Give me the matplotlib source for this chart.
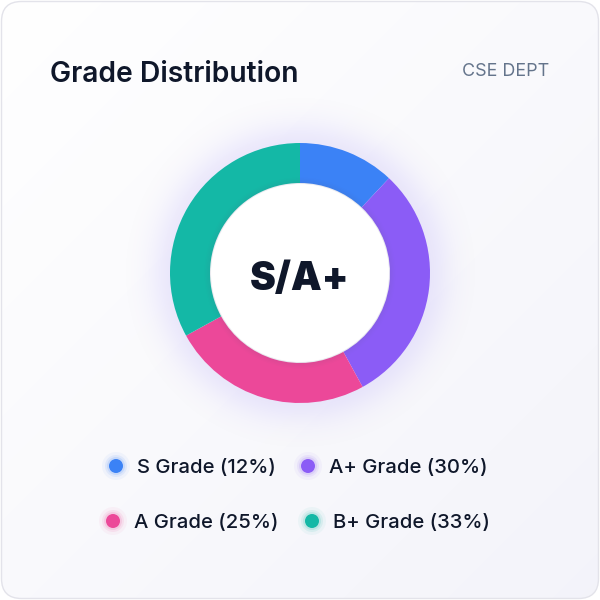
import matplotlib.pyplot as plt
from matplotlib.patches import FancyBboxPatch, Circle
import numpy as np

plt.rcParams['font.family'] = ['Inter', 'DejaVu Sans']

# data
grades = ['S Grade', 'A+ Grade', 'A Grade', 'B+ Grade']
shares = [12, 30, 25, 33]
colors = ['#3b82f6', '#8b5cf6', '#ec4899', '#14b8a6']
title = 'Grade Distribution'
dept = 'CSE DEPT'
center_label = 'S/A+'

W = H = 600
fig = plt.figure(figsize=(6, 6), dpi=100)
ax = fig.add_axes([0, 0, 1, 1])
renderer = fig.canvas.get_renderer()


def fit_size(s, width_px, **kw):
    # font size that makes the text about width_px wide
    t = fig.text(0, 0, s, fontsize=10, **kw)
    w = t.get_window_extent(renderer).width
    t.remove()
    return 10 * width_px / w


# card background with a soft gradient
yy, xx = np.mgrid[0:H, 0:W]
tt = (xx + (H - yy)) / (W + H)
top = np.array([1.0, 1.0, 1.0])
bot = np.array([0.955, 0.955, 0.98])
grad = top[None, None, :] * (1 - tt[..., None]) + bot[None, None, :] * tt[..., None]
card = FancyBboxPatch((1.5, 1.5), W - 3, H - 3, boxstyle='round,pad=0,rounding_size=20',
                      fc='none', ec='#e3e3ea', lw=1, zorder=2)
ax.add_patch(card)
im = ax.imshow(grad, extent=[0, W, 0, H], origin='lower', zorder=0)
im.set_clip_path(card)

cx, cy = 300, 327
r_out, r_in = 130, 90

# glow around the ring
r = np.hypot(xx - cx, (H - 1 - yy) - cy)
glow = np.zeros((H, W, 4))
glow[..., 0] = 0.55
glow[..., 1] = 0.47
glow[..., 2] = 0.96
glow[..., 3] = np.where(r > r_out - 5, 0.15 * np.exp(-((r - r_out + 5) / 26.0) ** 2), 0)
ax.imshow(glow[::-1], extent=[0, W, 0, H], origin='lower', zorder=1)

ax.pie(shares, colors=colors, startangle=90, counterclock=False, radius=r_out,
       center=(cx, cy), wedgeprops=dict(width=r_out - r_in, lw=0), frame=True)
ax.set_xlim(0, W)
ax.set_ylim(0, H)
ax.set_aspect('equal')
ax.axis('off')

# inner white disc with faint shadow
for k, al in zip([4, 3, 2, 1], [0.015, 0.02, 0.025, 0.03]):
    ax.add_patch(Circle((cx, cy), r_in, fc='none', ec=(0.4, 0.4, 0.5, al), lw=k * 2, zorder=5))
ax.add_patch(Circle((cx, cy), r_in - 1, fc='white', ec='none', zorder=6))

fs = fit_size(center_label, 99, fontweight=900)
ax.text(cx, 600 - 276, center_label, ha='center', va='center_baseline', fontsize=fs,
        fontweight=900, color='#0f172a', zorder=7)

fs = fit_size(title, 248, fontweight=600)
ax.text(50, 600 - 71, title, ha='left', va='center_baseline', fontsize=fs,
        fontweight=600, color='#0f172a', zorder=7)
fs = fit_size(dept, 87)
ax.text(549, 600 - 70, dept, ha='right', va='center_baseline', fontsize=fs,
        color='#64748b', zorder=7)

# legend
dot_pos = [(116, 466), (308, 466), (113, 521), (312, 521)]
fs = fit_size('S Grade (12%)', 139, fontweight=500)
for (dx, dy), g, s, c in zip(dot_pos, grades, shares, colors):
    y = 600 - dy
    for rr, al in [(14, 0.05), (11, 0.09), (9, 0.14)]:
        ax.add_patch(Circle((dx, y), rr, fc=c, ec='none', alpha=al, zorder=6))
    ax.add_patch(Circle((dx, y), 7, fc=c, ec='none', zorder=7))
    ax.text(dx + 21, y, f'{g} ({s}%)', ha='left', va='center_baseline', fontsize=fs,
            fontweight=500, color='#0f172a', zorder=7)

fig.savefig('out.png', dpi=100, facecolor='white')
